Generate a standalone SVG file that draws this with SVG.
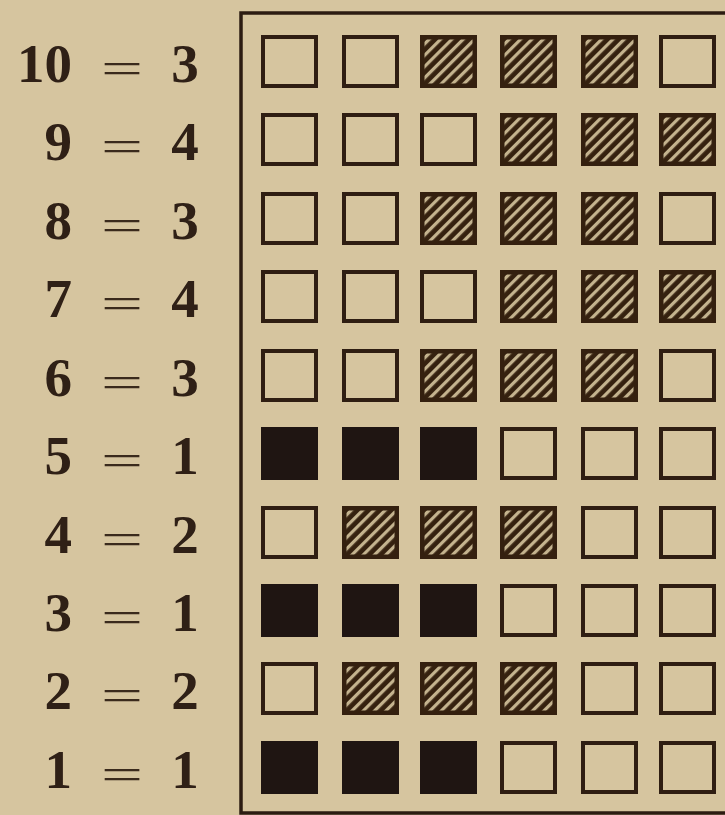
<svg xmlns="http://www.w3.org/2000/svg" width="725" height="815" viewBox="0 0 725 815">
<style>
.lbl{font-family:"Liberation Serif","DejaVu Serif",serif;font-weight:bold;font-size:55px;fill:#2f2016}
.eq{font-family:"Liberation Serif","DejaVu Serif",serif;font-size:44px;fill:#3a2a1c}
.frame{stroke:#2c1c12;stroke-width:3.5;fill:none}
</style>
<defs>
<pattern id="hatch" patternUnits="userSpaceOnUse" width="8" height="8" patternTransform="rotate(45)">
<rect width="8" height="8" fill="#35210f"/>
<rect x="0" y="0" width="3.2" height="8" fill="#c4b38e"/>
</pattern>
<symbol id="open" overflow="visible">
<rect x="2" y="2" width="53" height="49" fill="none" stroke="#2f1e12" stroke-width="4"/>
</symbol>
<symbol id="hat" overflow="visible">
<rect x="0" y="0" width="57" height="53" fill="#34200f"/>
<rect x="4.5" y="4.5" width="48" height="44" fill="url(#hatch)"/>
</symbol>
<symbol id="blk" overflow="visible">
<rect x="0" y="0" width="57" height="53" fill="#1f1512"/>
</symbol>
</defs>
<rect width="725" height="815" fill="#d6c59f"/>
<g id="frame">
<path class="frame" d="M725 13 H241 V813 H725"/>
</g>
<g id="labels">
<g id="label-10"><text class="lbl" x="72" y="82" text-anchor="end">10</text><text class="eq" x="101" y="83" textLength="42" lengthAdjust="spacingAndGlyphs">=</text><text class="lbl" x="185" y="82" text-anchor="middle">3</text></g>
<g id="label-9"><text class="lbl" x="72" y="160" text-anchor="end">9</text><text class="eq" x="101" y="161" textLength="42" lengthAdjust="spacingAndGlyphs">=</text><text class="lbl" x="185" y="160" text-anchor="middle">4</text></g>
<g id="label-8"><text class="lbl" x="72" y="239" text-anchor="end">8</text><text class="eq" x="101" y="240" textLength="42" lengthAdjust="spacingAndGlyphs">=</text><text class="lbl" x="185" y="239" text-anchor="middle">3</text></g>
<g id="label-7"><text class="lbl" x="72" y="317" text-anchor="end">7</text><text class="eq" x="101" y="318" textLength="42" lengthAdjust="spacingAndGlyphs">=</text><text class="lbl" x="185" y="317" text-anchor="middle">4</text></g>
<g id="label-6"><text class="lbl" x="72" y="396" text-anchor="end">6</text><text class="eq" x="101" y="397" textLength="42" lengthAdjust="spacingAndGlyphs">=</text><text class="lbl" x="185" y="396" text-anchor="middle">3</text></g>
<g id="label-5"><text class="lbl" x="72" y="474" text-anchor="end">5</text><text class="eq" x="101" y="475" textLength="42" lengthAdjust="spacingAndGlyphs">=</text><text class="lbl" x="185" y="474" text-anchor="middle">1</text></g>
<g id="label-4"><text class="lbl" x="72" y="553" text-anchor="end">4</text><text class="eq" x="101" y="554" textLength="42" lengthAdjust="spacingAndGlyphs">=</text><text class="lbl" x="185" y="553" text-anchor="middle">2</text></g>
<g id="label-3"><text class="lbl" x="72" y="631" text-anchor="end">3</text><text class="eq" x="101" y="632" textLength="42" lengthAdjust="spacingAndGlyphs">=</text><text class="lbl" x="185" y="631" text-anchor="middle">1</text></g>
<g id="label-2"><text class="lbl" x="72" y="709" text-anchor="end">2</text><text class="eq" x="101" y="710" textLength="42" lengthAdjust="spacingAndGlyphs">=</text><text class="lbl" x="185" y="709" text-anchor="middle">2</text></g>
<g id="label-1"><text class="lbl" x="72" y="788" text-anchor="end">1</text><text class="eq" x="101" y="789" textLength="42" lengthAdjust="spacingAndGlyphs">=</text><text class="lbl" x="185" y="788" text-anchor="middle">1</text></g>
</g>
<g id="row-10" transform="translate(0,35)">
<use href="#open" x="261"/><use href="#open" x="342"/><use href="#hat" x="420"/><use href="#hat" x="500"/><use href="#hat" x="581"/><use href="#open" x="659"/>
</g>
<g id="row-9" transform="translate(0,113)">
<use href="#open" x="261"/><use href="#open" x="342"/><use href="#open" x="420"/><use href="#hat" x="500"/><use href="#hat" x="581"/><use href="#hat" x="659"/>
</g>
<g id="row-8" transform="translate(0,192)">
<use href="#open" x="261"/><use href="#open" x="342"/><use href="#hat" x="420"/><use href="#hat" x="500"/><use href="#hat" x="581"/><use href="#open" x="659"/>
</g>
<g id="row-7" transform="translate(0,270)">
<use href="#open" x="261"/><use href="#open" x="342"/><use href="#open" x="420"/><use href="#hat" x="500"/><use href="#hat" x="581"/><use href="#hat" x="659"/>
</g>
<g id="row-6" transform="translate(0,349)">
<use href="#open" x="261"/><use href="#open" x="342"/><use href="#hat" x="420"/><use href="#hat" x="500"/><use href="#hat" x="581"/><use href="#open" x="659"/>
</g>
<g id="row-5" transform="translate(0,427)">
<use href="#blk" x="261"/><use href="#blk" x="342"/><use href="#blk" x="420"/><use href="#open" x="500"/><use href="#open" x="581"/><use href="#open" x="659"/>
</g>
<g id="row-4" transform="translate(0,506)">
<use href="#open" x="261"/><use href="#hat" x="342"/><use href="#hat" x="420"/><use href="#hat" x="500"/><use href="#open" x="581"/><use href="#open" x="659"/>
</g>
<g id="row-3" transform="translate(0,584)">
<use href="#blk" x="261"/><use href="#blk" x="342"/><use href="#blk" x="420"/><use href="#open" x="500"/><use href="#open" x="581"/><use href="#open" x="659"/>
</g>
<g id="row-2" transform="translate(0,662)">
<use href="#open" x="261"/><use href="#hat" x="342"/><use href="#hat" x="420"/><use href="#hat" x="500"/><use href="#open" x="581"/><use href="#open" x="659"/>
</g>
<g id="row-1" transform="translate(0,741)">
<use href="#blk" x="261"/><use href="#blk" x="342"/><use href="#blk" x="420"/><use href="#open" x="500"/><use href="#open" x="581"/><use href="#open" x="659"/>
</g>
</svg>
